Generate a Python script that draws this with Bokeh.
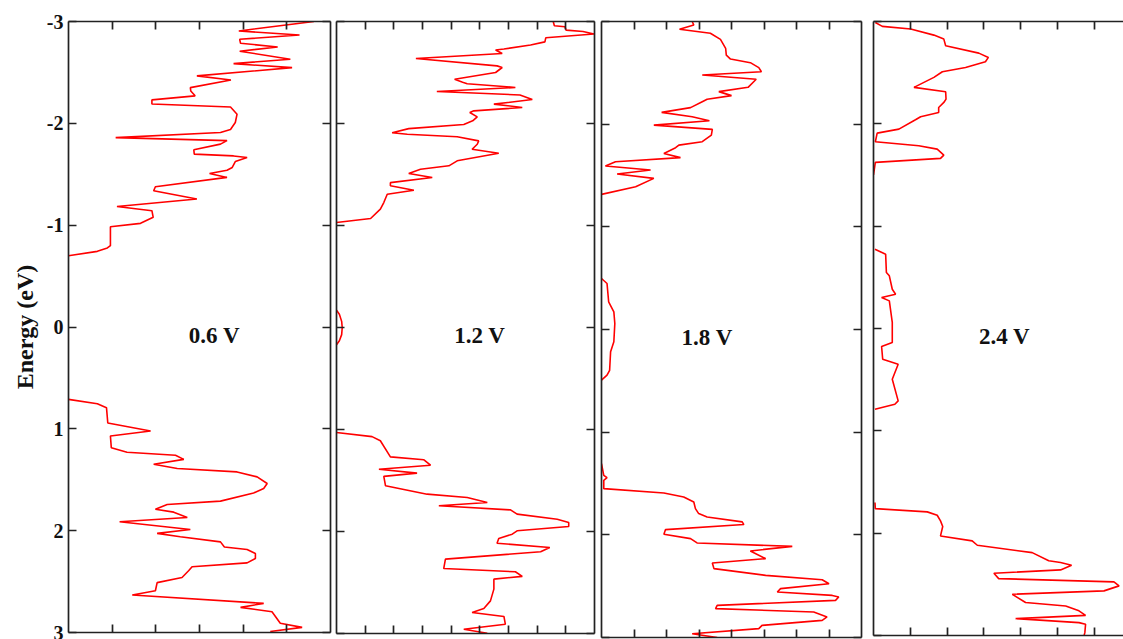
from bokeh.plotting import figure
from bokeh.models import Range1d, LinearAxis, FixedTicker, Label
from bokeh.layouts import row
from bokeh.embed import file_html
from bokeh.resources import INLINE

# Bias voltages, one panel each
voltages = ["0.6 V", "1.2 V", "1.8 V", "2.4 V"]
energy_ticks = [-3, -2, -1, 0, 1, 2, 3]
energy_tick_labels = ["-3", "-2", "-1", "0", "1", "2", "3"]

# ---- 0.6 V ----
dos_06_occ = [5.62, 3.90, 5.29, 3.92, 3.94, 4.79, 3.92, 5.08, 3.78, 5.12, 2.94, 3.72, 2.79, 2.80,
              2.90, 1.91, 1.91, 3.71, 3.86, 3.82, 3.71, 3.48, 1.08, 3.63, 3.48, 2.87, 2.88, 3.78,
              4.09, 3.82, 3.75, 3.63, 3.23, 3.63, 1.99, 1.95, 2.94, 1.11, 1.91, 1.94, 1.65, 0.96,
              0.96, 0.89, 0.66, 0.0]
e_06_occ = [-3.0, -2.907, -2.868, -2.825, -2.786, -2.750, -2.708, -2.630, -2.586, -2.547, -2.466,
            -2.426, -2.351, -2.318, -2.270, -2.230, -2.190, -2.160, -2.090, -2.008, -1.940, -1.910,
            -1.860, -1.830, -1.796, -1.740, -1.698, -1.680, -1.665, -1.625, -1.567, -1.540, -1.508,
            -1.469, -1.377, -1.338, -1.257, -1.184, -1.142, -1.077, -1.018, -0.985, -0.799, -0.776,
            -0.743, -0.700]
dos_06_unocc = [0.0, 0.66, 0.87, 0.90, 1.88, 0.96, 0.98, 1.34, 2.45, 2.64, 1.95, 2.49, 3.86, 4.32,
                4.55, 4.47, 4.24, 3.48, 2.26, 1.99, 2.41, 2.72, 1.17, 2.79, 2.03, 2.56, 3.48, 3.57,
                4.09, 4.28, 4.28, 4.09, 2.83, 2.75, 2.60, 2.03, 1.99, 1.46, 4.47, 3.94, 4.66, 4.85,
                5.35, 4.62]
e_06_unocc = [0.711, 0.753, 0.792, 0.943, 1.021, 1.070, 1.185, 1.230, 1.260, 1.300, 1.348, 1.390,
              1.423, 1.472, 1.537, 1.586, 1.630, 1.710, 1.743, 1.790, 1.818, 1.870, 1.913, 1.988,
              2.027, 2.060, 2.110, 2.160, 2.185, 2.224, 2.273, 2.316, 2.355, 2.394, 2.460, 2.510,
              2.590, 2.632, 2.714, 2.753, 2.796, 2.910, 2.950, 2.990]

# ---- 1.2 V ----
dos_12_occ = [7.56, 7.60, 7.97, 8.01, 8.60, 8.98, 7.30, 7.27, 6.77, 5.84, 5.55, 5.78, 2.77, 5.60,
              5.78, 5.55, 4.12, 4.40, 4.56, 6.24, 3.50, 6.40, 6.83, 5.49, 6.48, 4.79, 4.65, 4.91,
              4.75, 4.44, 2.52, 1.94, 2.47, 4.21, 4.96, 4.91, 4.73, 5.66, 4.21, 3.92, 2.93, 2.52,
              3.34, 1.88, 1.88, 2.70, 1.77, 1.65, 1.53, 1.19, 0.0]
e_12_occ = [-3.0, -2.958, -2.948, -2.915, -2.902, -2.877, -2.840, -2.800, -2.770, -2.730, -2.720,
            -2.686, -2.637, -2.565, -2.549, -2.500, -2.434, -2.405, -2.390, -2.353, -2.314, -2.280,
            -2.235, -2.190, -2.157, -2.124, -2.108, -2.065, -2.026, -1.990, -1.950, -1.910, -1.895,
            -1.870, -1.830, -1.797, -1.748, -1.709, -1.634, -1.585, -1.552, -1.510, -1.470, -1.420,
            -1.390, -1.346, -1.307, -1.225, -1.160, -1.069, -1.030]
dos_12_gap = [0.0, 0.10, 0.18, 0.20, 0.18, 0.10, 0.0]
e_12_gap = [-0.17, -0.13, -0.06, 0.0, 0.07, 0.13, 0.17]
dos_12_unocc = [0.0, 1.24, 1.53, 1.88, 3.05, 3.28, 1.48, 2.81, 1.65, 1.71, 3.16, 4.56, 5.26, 3.57,
                6.07, 6.30, 7.70, 8.10, 8.10, 6.30, 6.13, 5.66, 5.60, 7.44, 7.12, 3.80, 3.74, 6.24,
                6.48, 5.49, 5.49, 5.37, 5.14, 4.73, 5.84, 5.89, 4.44, 5.26]
e_12_unocc = [1.030, 1.070, 1.110, 1.268, 1.297, 1.350, 1.389, 1.428, 1.460, 1.552, 1.634, 1.667,
              1.716, 1.748, 1.788, 1.830, 1.880, 1.912, 1.951, 1.993, 2.026, 2.069, 2.115, 2.157,
              2.199, 2.271, 2.363, 2.395, 2.440, 2.467, 2.565, 2.680, 2.755, 2.794, 2.833, 2.909,
              2.958, 2.997]

# ---- 1.8 V ----
dos_18_occ = [2.79, 2.84, 2.40, 3.35, 3.66, 3.82, 3.84, 3.97, 4.58, 4.84, 4.92, 3.10, 4.76, 4.51,
              3.61, 4.00, 3.25, 3.10, 2.74, 1.85, 2.79, 3.32, 1.61, 3.41, 3.38, 3.10, 2.38, 2.28,
              1.92, 2.43, 0.43, 0.12, 1.51, 0.48, 1.61, 1.05, 0.0]
e_18_occ = [-3.0, -2.966, -2.924, -2.885, -2.826, -2.739, -2.673, -2.634, -2.599, -2.551, -2.511,
            -2.479, -2.437, -2.359, -2.317, -2.278, -2.242, -2.219, -2.161, -2.115, -2.073, -2.034,
            -1.991, -1.949, -1.894, -1.829, -1.796, -1.771, -1.715, -1.674, -1.634, -1.592, -1.553,
            -1.514, -1.472, -1.391, -1.316]
dos_18_gap = [0.0, 0.17, 0.22, 0.38, 0.41, 0.38, 0.28, 0.25, 0.17, 0.0]
e_18_gap = [-0.497, -0.448, -0.270, -0.172, -0.058, 0.120, 0.217, 0.397, 0.445, 0.494]
dos_18_unocc = [0.0, 0.07, 0.17, 0.07, 0.07, 1.92, 2.53, 2.84, 2.89, 2.99, 3.25, 4.33, 4.38, 1.97,
                1.92, 2.74, 2.94, 5.87, 4.58, 5.05, 3.41, 3.46, 5.05, 6.79, 7.00, 5.51, 5.41, 7.10,
                7.30, 7.20, 3.56, 3.51, 6.53, 6.94, 6.79, 4.94, 4.84, 2.79, 3.56]
e_18_unocc = [1.306, 1.420, 1.443, 1.470, 1.550, 1.592, 1.631, 1.680, 1.745, 1.793, 1.826, 1.874,
              1.900, 1.949, 1.995, 2.037, 2.079, 2.112, 2.157, 2.232, 2.274, 2.329, 2.395, 2.437,
              2.476, 2.524, 2.557, 2.590, 2.605, 2.638, 2.687, 2.719, 2.752, 2.800, 2.833, 2.882,
              2.914, 2.963, 3.000]

# ---- 2.4 V ----
dos_24_occ = [0.05, 0.24, 1.01, 1.64, 1.91, 1.96, 2.86, 3.12, 3.04, 2.50, 1.87, 1.64, 1.10, 1.96,
              1.97, 1.91, 1.77, 1.77, 1.28, 1.14, 0.69, 0.10, 0.05, 1.23, 1.73, 1.91, 1.82, 0.05,
              0.0]
e_24_occ = [-2.99, -2.952, -2.926, -2.867, -2.828, -2.763, -2.691, -2.649, -2.607, -2.551, -2.509,
            -2.454, -2.356, -2.314, -2.242, -2.209, -2.160, -2.111, -2.069, -2.040, -1.948, -1.909,
            -1.825, -1.786, -1.753, -1.694, -1.662, -1.623, -1.500]
dos_24_gap = [0.04, 0.33, 0.35, 0.43, 0.51, 0.60, 0.22, 0.43, 0.51, 0.51, 0.22, 0.25, 0.67, 0.51,
              0.67, 0.58, 0.04]
e_24_gap = [-0.775, -0.726, -0.547, -0.515, -0.384, -0.335, -0.303, -0.270, -0.059, 0.137, 0.176,
            0.300, 0.349, 0.496, 0.707, 0.740, 0.789]
dos_24_unocc = [0.04, 0.05, 1.46, 1.73, 1.82, 1.88, 1.82, 2.68, 2.82, 4.31, 4.76, 5.08, 5.38, 5.08,
                3.27, 3.40, 6.53, 6.67, 6.26, 3.77, 4.13, 5.22, 5.58, 5.76, 3.86, 5.58, 5.76, 5.74,
                5.72]
e_24_unocc = [1.700, 1.760, 1.792, 1.825, 1.880, 1.935, 2.027, 2.075, 2.118, 2.190, 2.270, 2.287,
              2.313, 2.359, 2.392, 2.444, 2.476, 2.515, 2.564, 2.597, 2.678, 2.711, 2.759, 2.803,
              2.835, 2.874, 2.890, 2.972, 3.000]

series = [
    [(dos_06_occ, e_06_occ), (dos_06_unocc, e_06_unocc)],
    [(dos_12_occ, e_12_occ), (dos_12_gap, e_12_gap), (dos_12_unocc, e_12_unocc)],
    [(dos_18_occ, e_18_occ), (dos_18_gap, e_18_gap), (dos_18_unocc, e_18_unocc)],
    [(dos_24_occ, e_24_occ), (dos_24_gap, e_24_gap), (dos_24_unocc, e_24_unocc)],
]

# Panel geometry: DOS axis length, frame size, borders, label x position
panels = [
    dict(xmax=6.0, ticks=[1, 2, 3, 4, 5], fw=262, fh=611, bl=68, br=3, bt=21, bb=7, lx=3.34, right=True),
    dict(xmax=9.0, ticks=[1, 2, 3, 4, 5, 6, 7, 8], fw=258, fh=612, bl=3, br=3, bt=19, bb=8, lx=5.0, right=True),
    dict(xmax=8.0, ticks=[1, 2, 3, 4, 5, 6, 7], fw=260, fh=616, bl=4, br=6, bt=17, bb=6, lx=3.25, right=True),
    dict(xmax=6.79, ticks=[1, 2, 3, 4, 5, 6], fw=250, fh=614, bl=6, br=0, bt=19, bb=6, lx=3.56, right=False),
]

FRAME = "#222222"
LW = 1.7
SERIF = "Liberation Serif"


def frame_axis(ticks, labels=False):
    ax = LinearAxis(ticker=FixedTicker(ticks=ticks),
                    axis_line_color=FRAME, axis_line_width=LW,
                    major_tick_in=8, major_tick_out=0,
                    major_tick_line_color=FRAME, major_tick_line_width=LW,
                    minor_tick_line_color=None)
    if labels:
        ax.major_label_overrides = dict(zip(energy_ticks, energy_tick_labels))
        ax.major_label_text_font = SERIF
        ax.major_label_text_font_style = "bold"
        ax.major_label_text_font_size = "20px"
        ax.major_label_text_color = "#111111"
        ax.major_label_standoff = 5
    else:
        ax.major_label_text_font_size = "0px"
        ax.major_label_text_color = None
        ax.major_label_standoff = 0
    return ax


figs = []
for i, (cfg, curves) in enumerate(zip(panels, series)):
    p = figure(frame_width=cfg["fw"], frame_height=cfg["fh"],
               x_range=Range1d(0, cfg["xmax"]), y_range=Range1d(3, -3),
               x_axis_location=None, y_axis_location=None,
               min_border_left=cfg["bl"], min_border_right=cfg["br"],
               min_border_top=cfg["bt"], min_border_bottom=cfg["bb"],
               output_backend="svg", toolbar_location=None,
               outline_line_color=None,
               background_fill_color="white", border_fill_color="white")
    p.xgrid.visible = False
    p.ygrid.visible = False

    for dos, en in curves:
        p.line(dos, en, line_color="#ff0000", line_width=1.6)

    left = frame_axis(energy_ticks, labels=(i == 0))
    if i == 0:
        left.axis_label = "Energy (eV)"
        left.axis_label_text_font = SERIF
        left.axis_label_text_font_style = "bold"
        left.axis_label_text_font_size = "24px"
        left.axis_label_text_color = "#111111"
        left.axis_label_standoff = 6
    p.add_layout(left, "left")
    if cfg["right"]:
        p.add_layout(frame_axis(energy_ticks), "right")
    p.add_layout(frame_axis(cfg["ticks"]), "above")
    p.add_layout(frame_axis(cfg["ticks"]), "below")

    p.add_layout(Label(x=cfg["lx"], y=0.08, text=voltages[i],
                       text_font=SERIF, text_font_style="bold", text_font_size="23px",
                       text_color="#111111", text_align="center", text_baseline="middle"))
    figs.append(p)

layout = row(*figs)
open("out.html", "w").write(file_html(layout, INLINE))
